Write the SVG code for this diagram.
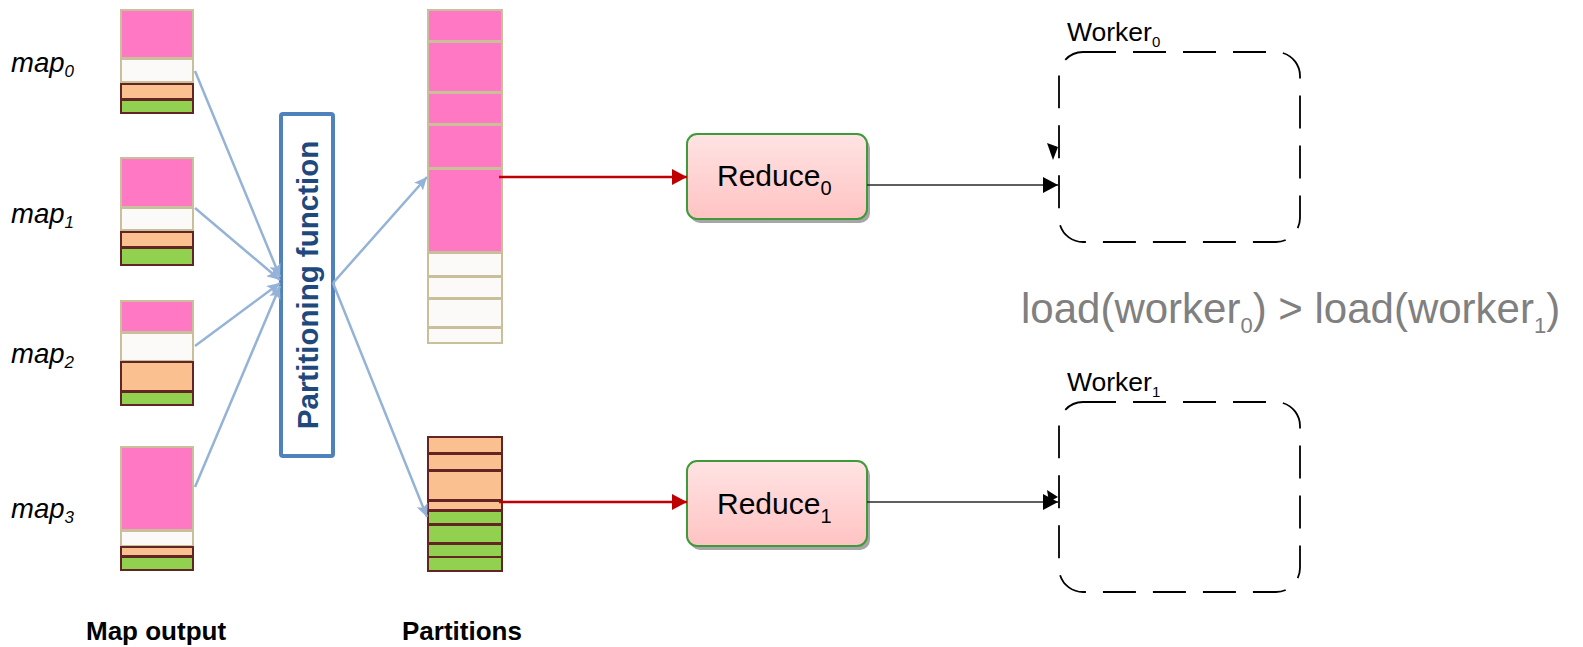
<svg xmlns="http://www.w3.org/2000/svg" width="1583" height="647" viewBox="0 0 1583 647">
<defs>
<style>
.pk{fill:#FF78C4;stroke:#C9BF9B;stroke-width:2}
.wh{fill:#FBFAF8;stroke:#C9BF9B;stroke-width:2}
.or{fill:#FAC090;stroke:#632523;stroke-width:2}
.gr{fill:#92D050;stroke:#632523;stroke-width:2}
.lbl{font-family:"Liberation Sans",Arial,sans-serif;font-style:italic;font-size:27.5px;fill:#000}
.sub{font-size:17px}
.cap{font-family:"Liberation Sans",Arial,sans-serif;font-weight:bold;font-size:26px;fill:#000}
.blue{stroke:#95B3D7;stroke-width:2.5;fill:none}
.red{stroke:#C00000;stroke-width:2.5;fill:none}
.blk{stroke:#2A2A2A;stroke-width:1.3;fill:none}
.red-box{fill:url(#rg);stroke:#3E9B3A;stroke-width:2}
.shadow{fill:#A6A6A6}
.rt{font-family:"Liberation Sans",Arial,sans-serif;font-size:30px;fill:#000}
.wk{fill:none;stroke:#000;stroke-width:1.8;stroke-dasharray:33 17}
.wt{font-family:"Liberation Sans",Arial,sans-serif;font-size:26.5px;fill:#000}
</style>
<linearGradient id="rg" x1="0" y1="0" x2="0" y2="1">
<stop offset="0" stop-color="#FFE3E3"/>
<stop offset="1" stop-color="#FFC3C3"/>
</linearGradient>
<marker id="ab" markerUnits="userSpaceOnUse" markerWidth="14" markerHeight="12" refX="13" refY="6" orient="auto">
<path d="M0,0 L13,6 L0,12 L3,6 Z" fill="#95B3D7"/>
</marker>
<marker id="ar" markerUnits="userSpaceOnUse" markerWidth="16" markerHeight="16" refX="15" refY="8" orient="auto">
<path d="M0,0 L15,8 L0,16 Z" fill="#C00000"/>
</marker>
<marker id="ak" markerUnits="userSpaceOnUse" markerWidth="16" markerHeight="16" refX="15" refY="8" orient="auto">
<path d="M0,0 L15,8 L0,16 Z" fill="#000"/>
</marker>
</defs>
<rect width="1583" height="647" fill="#fff"/>

<g id="map0">
<rect class="pk" x="121" y="10" width="72" height="48"/>
<rect class="wh" x="121" y="59" width="72" height="23"/>
<rect class="or" x="121" y="84" width="72" height="15"/>
<rect class="gr" x="121" y="100" width="72" height="13"/>
<text class="lbl" x="11" y="72">map<tspan class="sub" dy="5">0</tspan></text>
</g>
<g id="map1">
<rect class="pk" x="121" y="158" width="72" height="49"/>
<rect class="wh" x="121" y="208" width="72" height="22"/>
<rect class="or" x="121" y="232" width="72" height="15"/>
<rect class="gr" x="121" y="248" width="72" height="17"/>
<text class="lbl" x="11" y="223">map<tspan class="sub" dy="5">1</tspan></text>
</g>
<g id="map2">
<rect class="pk" x="121" y="301" width="72" height="31"/>
<rect class="wh" x="121" y="333" width="72" height="28"/>
<rect class="or" x="121" y="362" width="72" height="29"/>
<rect class="gr" x="121" y="392" width="72" height="13"/>
<text class="lbl" x="11" y="363">map<tspan class="sub" dy="5">2</tspan></text>
</g>
<g id="map3">
<rect class="pk" x="121" y="447" width="72" height="83"/>
<rect class="wh" x="121" y="531" width="72" height="15"/>
<rect class="or" x="121" y="547" width="72" height="9"/>
<rect class="gr" x="121" y="557" width="72" height="13"/>
<text class="lbl" x="11" y="518">map<tspan class="sub" dy="5">3</tspan></text>
</g>

<g id="partitioner">
<rect x="281" y="114" width="52" height="342" rx="2" fill="#fff" stroke="#4F81BD" stroke-width="4"/>
<text transform="translate(318,285) rotate(-90)" text-anchor="middle" font-family="Liberation Sans, Arial, sans-serif" font-weight="bold" font-size="29.5" fill="#1F497D">Partitioning function</text>
</g>

<g id="partition0">
<rect class="pk" x="428" y="10" width="74" height="31"/>
<rect class="pk" x="428" y="42" width="74" height="50"/>
<rect class="pk" x="428" y="93" width="74" height="31"/>
<rect class="pk" x="428" y="125" width="74" height="43"/>
<rect class="pk" x="428" y="169" width="74" height="83"/>
<rect class="wh" x="428" y="253" width="74" height="23"/>
<rect class="wh" x="428" y="277" width="74" height="21"/>
<rect class="wh" x="428" y="299" width="74" height="28"/>
<rect class="wh" x="428" y="328" width="74" height="15"/>
</g>
<g id="partition1">
<rect class="or" x="428" y="437" width="74" height="16"/>
<rect class="or" x="428" y="454" width="74" height="16"/>
<rect class="or" x="428" y="471" width="74" height="29"/>
<rect class="or" x="428" y="501" width="74" height="9"/>
<rect class="gr" x="428" y="511" width="74" height="13"/>
<rect class="gr" x="428" y="525" width="74" height="18"/>
<rect class="gr" x="428" y="544" width="74" height="13"/>
<rect class="gr" x="428" y="557" width="74" height="14"/>
</g>

<g id="reduce0">
<rect class="shadow" x="690" y="138" width="180" height="85" rx="10"/>
<rect class="red-box" x="687" y="134" width="180" height="85" rx="10"/>
<text class="rt" x="717" y="186">Reduce<tspan font-size="20" dy="9">0</tspan></text>
</g>
<g id="reduce1">
<rect class="shadow" x="690" y="465" width="180" height="85" rx="10"/>
<rect class="red-box" x="687" y="461" width="180" height="85" rx="10"/>
<text class="rt" x="717" y="514">Reduce<tspan font-size="20" dy="9">1</tspan></text>
</g>

<g id="worker0">
<rect class="wk" x="1059" y="52" width="241" height="190" rx="24"/>
<text class="wt" x="1067" y="41">Worker<tspan font-size="15" dy="6">0</tspan></text>
<path d="M1047,143 L1058,147 L1053,160 Z" fill="#000"/>
</g>
<g id="worker1">
<rect class="wk" x="1059" y="402" width="241" height="190" rx="24"/>
<text class="wt" x="1067" y="391">Worker<tspan font-size="15" dy="6">1</tspan></text>
<path d="M1047,490 L1058,497 L1049,502 Z" fill="#000"/>
</g>

<g id="connectors">
<line class="blue" x1="195" y1="71" x2="280" y2="277" marker-end="url(#ab)"/>
<line class="blue" x1="195" y1="208" x2="280" y2="280" marker-end="url(#ab)"/>
<line class="blue" x1="195" y1="346" x2="280" y2="283" marker-end="url(#ab)"/>
<line class="blue" x1="195" y1="487" x2="280" y2="286" marker-end="url(#ab)"/>
<line class="blue" x1="333" y1="283" x2="427" y2="177" marker-end="url(#ab)"/>
<line class="blue" x1="333" y1="283" x2="427" y2="517" marker-end="url(#ab)"/>
<line class="red" x1="499" y1="177" x2="687" y2="177" marker-end="url(#ar)"/>
<line class="red" x1="499" y1="502" x2="687" y2="502" marker-end="url(#ar)"/>
<line class="blk" x1="867" y1="185" x2="1058" y2="185" marker-end="url(#ak)"/>
<line class="blk" x1="867" y1="502" x2="1058" y2="502" marker-end="url(#ak)"/>
</g>

<g id="labels">
<text class="cap" x="86" y="640">Map output</text>
<text class="cap" x="402" y="640">Partitions</text>
<text x="1021" y="323" font-family="Liberation Sans, Arial, sans-serif" font-size="42" fill="#808080">load(worker<tspan font-size="22" dy="10">0</tspan><tspan dy="-10">) &gt; load(worker</tspan><tspan font-size="22" dy="10">1</tspan><tspan dy="-10">)</tspan></text>
</g>
</svg>
